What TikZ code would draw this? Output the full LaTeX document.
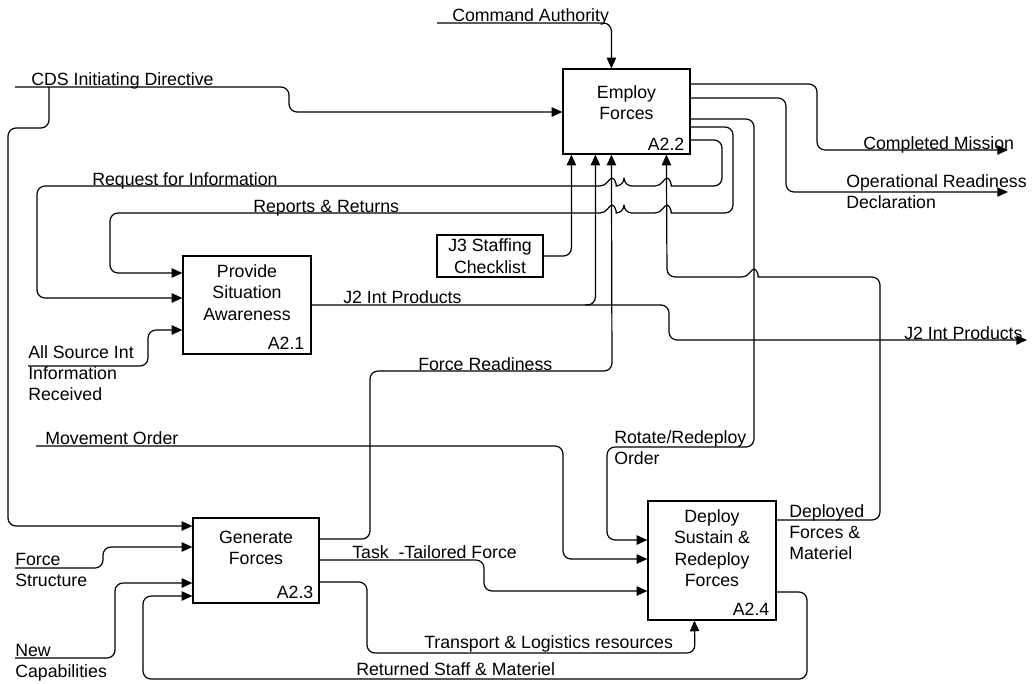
\documentclass[tikz,border=0pt]{standalone}
\usepackage{fontspec}
\setmainfont{Liberation Sans}
\usetikzlibrary{arrows.meta,calc}
\newcommand\labfont{\fontsize{13.3}{16}\selectfont}
\tikzset{
  ln/.style={line width=0.9pt, rounded corners=6pt, line join=round},
  arr/.style={ln, -{Triangle[length=8pt,width=7pt]}},
  fbox/.style={draw, line width=0.9pt, inner sep=0pt},
  lab/.style={font=\labfont, inner sep=0pt},
  ttl/.style={lab, anchor=north, align=center},
  num/.style={lab, anchor=base east},
  ml/.style={lab, anchor=north west, align=left},
  hopL/.style 2 args={insert path={ -- ({#1+12},#2) [sharp corners] .. controls ({#1+5},#2) and ({#1+3},{#2-8}) .. (#1,{#2-8}) .. controls ({#1-3},{#2-8}) and ({#1-5},#2) .. ({#1-12},#2) [rounded corners=6pt]}}
}
\begin{document}
\begin{tikzpicture}[x=0.75pt,y=-0.75pt]
\useasboundingbox (0,0) rectangle (1034,683);

% boxes
\node[fbox, minimum width=95.25pt, minimum height=63.75pt] (a22) at (626.5,111.5) {};
\node[fbox, minimum width=96pt, minimum height=73.5pt] (a21) at (247,305) {};
\node[fbox, minimum width=94.5pt, minimum height=63.75pt] (a23) at (256,560.5) {};
\node[fbox, minimum width=96pt, minimum height=89.25pt] (a24) at (712,560.5) {};
\node[fbox, font=\labfont, align=center, minimum width=79.5pt, minimum height=31.5pt] (j3) at (490,256) {J3 Staffing\\Checklist};

\node[ttl] (t22) at ($(a22.north)+(0,15)$) {\strut Employ\\Forces};
\node[ttl] (t21) at ($(a21.north)+(0,7)$) {\strut Provide\\Situation\\Awareness};
\node[ttl] (t23) at ($(a23.north)+(0,11)$) {\strut Generate\\Forces};
\node[ttl] (t24) at ($(a24.north)+(0,7)$) {\strut Deploy\\Sustain \&\\Redeploy\\Forces};

\node[num] (n22) at ($(a22.south east)+(-6,-4)$) {A2.2};
\node[num] (n21) at ($(a21.south east)+(-7,-5)$) {A2.1};
\node[num] (n23) at ($(a23.south east)+(-6,-5)$) {A2.3};
\node[num] (n24) at ($(a24.south east)+(-7,-5)$) {A2.4};

% free ends
\coordinate (caS) at (437,23);
\coordinate (cdsS) at (15,87);
\coordinate (cdsB) at (49,87);
\coordinate (cmE) at (1008,150);
\coordinate (orE) at (1008,192);
\coordinate (j2E) at (1027,340);
\coordinate (j2B) at (585,305);
\coordinate (asS) at (28,366);
\coordinate (moS) at (36,446);
\coordinate (fsS) at (15,568);
\coordinate (ncS) at (15,658);

% Command Authority
\draw[arr] (caS) -| ($(a22.north west)+(49,0)$);
% CDS Initiating Directive
\draw[arr] (cdsS) -- (289,87) -- (289,112) -- (a22.west |- 0,112);
\draw[arr] (cdsB) -- (49,128) -- (8,128) -- (8,526) -- (a23.west |- 0,526);
% Completed Mission
\draw[arr] (a22.east |- 0,84) -- (817,84) -- (817,150) -- (cmE);
% Operational Readiness Declaration
\draw[arr] (a22.east |- 0,98) -- (786,98) -- (786,192) -- (orE);
% Rotate/Redeploy Order
\draw[arr] (a22.east |- 0,119) -- (754,119) -- (754,447) -- (607,447) -- (607,540) -- (a24.west |- 0,540);
% Reports & Returns
\draw[arr] (a22.east |- 0,127) -- (733,127) -- (733,213) [hopL={667}{213}] -- (624,213) [hopL={612}{213}] -- (110,213) -- (110,273) -- (a21.west |- 0,273);
% Request for Information
\draw[arr] (a22.east |- 0,140) -- (722,140) -- (722,186) [hopL={667}{186}] -- (624,186) [hopL={612}{186}] -- (37,186) -- (37,298) -- (a21.west |- 0,298);
% J3 Staffing Checklist
\draw[arr] (j3.east) -| ($(a22.south west)+(9,0)$);
% J2 Int Products
\draw[arr] (a21.east |- 0,305) -- (669,305) -- (669,340) -- (j2E);
\draw[arr] (j2B) -| ($(a22.south west)+(33,0)$);
% Force Readiness
\draw[arr] (a23.east |- 0,539) -- (370,539) -- (370,371) -- (612,371) -- ($(a22.south west)+(49,0)$);
% Deployed Forces & Materiel
\draw[arr] (a24.east |- 0,520) -- (880,520) -- (880,277) [hopL={754}{277}] -- (667,277) -- ($(a22.south west)+(104,0)$);
% Movement Order
\draw[arr] (moS) -- (563,446) -- (563,559) -- (a24.west |- 0,559);
% Task-Tailored Force
\draw[arr] (a23.east |- 0,560) -- (484,560) -- (484,591) -- (a24.west |- 0,591);
% Transport & Logistics resources
\draw[arr] (a23.east |- 0,582) -- (367,582) -- (367,653) -- (695,653) -- ($(a24.south west)+(47,0)$);
% Returned Staff & Materiel
\draw[arr] (a24.east |- 0,592) -- (807,592) -- (807,679) -- (143,679) -- (143,596) -- (a23.west |- 0,596);
% Force Structure
\draw[arr] (fsS) -- (103,568) -- (103,547) -- (a23.west |- 0,547);
% New Capabilities
\draw[arr] (ncS) -- (115,658) -- (115,583) -- (a23.west |- 0,583);
% All Source Int
\draw[arr] (asS) -- (148,366) -- (148,330) -- (a21.west |- 0,330);

% labels
\node[lab, anchor=base west] (lca) at (452,21) {Command Authority};
\node[lab, anchor=base west] (lcds) at (31,85) {CDS Initiating Directive};
\node[lab, anchor=base west] (lcm) at (863,149) {Completed Mission};
\node[ml] (lor) at (846,172) {\strut Operational Readiness\\Declaration};
\node[lab, anchor=base west] (lrfi) at (92,185) {Request for Information};
\node[lab, anchor=base west] (lrr) at (253,212) {Reports \& Returns};
\node[lab, anchor=base west] (lj2a) at (343,303) {J2 Int Products};
\node[lab, anchor=base west] (lj2b) at (904,339) {J2 Int Products};
\node[ml] (las) at (28,343) {\strut All Source Int\\Information\\Received};
\node[lab, anchor=base west] (lfr) at (418,370) {Force Readiness};
\node[lab, anchor=base west] (lmo) at (45,444) {Movement Order};
\node[ml] (lrot) at (614,428) {\strut Rotate/Redeploy\\Order};
\node[ml] (ldep) at (789,502) {\strut Deployed\\Forces \&\\Materiel};
\node[ml] (lfs) at (15,550) {\strut Force\\Structure};
\node[lab, anchor=base west] (ltt) at (352,558) {Task~ -Tailored Force};
\node[ml] (lnc) at (15,641) {\strut New\\Capabilities};
\node[lab, anchor=base west] (ltl) at (424,648) {Transport \& Logistics resources};
\node[lab, anchor=base west] (lrs) at (356,675) {Returned Staff \& Materiel};
\end{tikzpicture}
\end{document}
